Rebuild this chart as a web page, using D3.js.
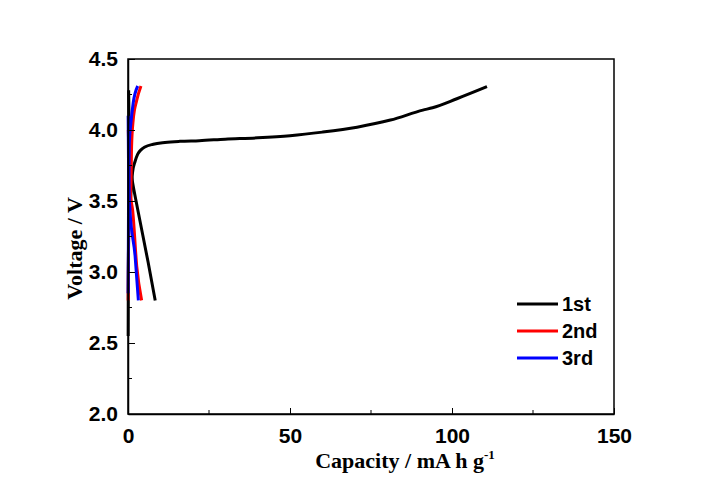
<!DOCTYPE html>
<meta charset="utf-8">
<script src="https://d3js.org/d3.v7.min.js"></script>
<style>
  body { margin: 0; background: #fff; }
</style>
<div id="my_dataviz"></div>
<script>

// cycle data: [capacity mA h g-1, voltage V]
const cycleNames = ["1st", "2nd", "3rd"];
const cycleColors = ["#000000", "#ff0000", "#0000ff"];

const charge1st = [[0.05, 2.55], [0.1, 3.0], [0.3, 3.35], [0.9, 3.55], [1.4, 3.7], [2.2, 3.78],
    [3.0, 3.83], [4.0, 3.86], [5.2, 3.88], [7.8, 3.9], [11.4, 3.912], [16, 3.92], [22, 3.925], [30, 3.935],
    [40, 3.945], [50, 3.96], [60, 3.985], [70.7, 4.02], [81, 4.07], [91, 4.14], [94, 4.157], [101.5, 4.22], [110.8, 4.305]];
const discharge1st = [[0.2, 4.28], [0.4, 3.9], [0.8, 3.72], [1.2, 3.66], [3.0, 3.44], [6.2, 3.07], [8.4, 2.8]];

const charge2nd = [[0.05, 2.8], [0.2, 3.3], [0.5, 3.5], [0.9, 3.6], [1.1, 3.88], [1.6, 4.07], [2.7, 4.21], [4.0, 4.31]];
const discharge2nd = [[0.1, 4.0], [0.4, 3.7], [1.0, 3.5], [1.4, 3.44], [2.7, 3.04], [4.2, 2.8]];

const charge3rd = [[0.05, 2.85], [0.15, 3.4], [0.3, 3.7], [0.4, 3.91], [0.9, 4.05], [1.6, 4.19], [3.0, 4.31]];
const discharge3rd = [[0.05, 4.1], [0.15, 3.8], [0.3, 3.6], [0.6, 3.44], [2.2, 3.11], [3.2, 2.8]];

const xTicks = [0, 50, 100, 150];
const xMinor = [25, 75, 125];
const yTicks = [2.0, 2.5, 3.0, 3.5, 4.0, 4.5];
const yMinor = [2.25, 2.75, 3.25, 3.75, 4.25];

const curves = [
    {cycle: 0, pts: charge1st}, {cycle: 0, pts: discharge1st},
    {cycle: 1, pts: charge2nd}, {cycle: 1, pts: discharge2nd},
    {cycle: 2, pts: charge3rd}, {cycle: 2, pts: discharge3rd}
];

const margin = {top: 59, right: 100, bottom: 84, left: 128},
    width = 714 - margin.left - margin.right,
    height = 498 - margin.top - margin.bottom;

const svg = d3.select("#my_dataviz")
    .append("svg")
    .attr("width", 714)
    .attr("height", 498)
    .append("g")
    .attr("transform", `translate(${margin.left},${margin.top})`);

const x = d3.scaleLinear().domain([0, 150]).range([0, width]);
const y = d3.scaleLinear().domain([2.0, 4.5]).range([height, 0]);

const tickFont = "'Liberation Sans', Arial, sans-serif";
const labelFont = "'Liberation Serif', 'Times New Roman', serif";

// curves
const line = d3.line().x(d => x(d[0])).y(d => y(d[1])).curve(d3.curveMonotoneX);
svg.selectAll("curves")
    .data(curves)
    .enter()
    .append("path")
    .attr("d", d => line(d.pts))
    .attr("fill", "none")
    .attr("stroke", d => cycleColors[d.cycle])
    .attr("stroke-width", 3)
    .attr("stroke-linejoin", "round");

// frame
svg.append("rect")
    .attr("width", width).attr("height", height)
    .attr("fill", "none").attr("stroke", "#000").attr("stroke-width", 1.5);

// x axis (ticks inside)
const xAxis = svg.append("g")
    .attr("transform", `translate(0,${height})`)
    .call(d3.axisBottom(x).tickValues(xTicks).tickSizeInner(-6).tickSizeOuter(0).tickPadding(14).tickFormat(d3.format("d")));
xAxis.append("g").selectAll("line").data(xMinor).enter().append("line")
    .attr("x1", d => x(d)).attr("x2", d => x(d)).attr("y1", 0).attr("y2", -4)
    .attr("stroke", "#000");

// y axis (ticks inside)
const yAxis = svg.append("g")
    .call(d3.axisLeft(y).tickValues(yTicks).tickSizeInner(-7).tickSizeOuter(0).tickPadding(10).tickFormat(d3.format(".1f")));
yAxis.append("g").selectAll("line").data(yMinor).enter().append("line")
    .attr("x1", 0).attr("x2", 4).attr("y1", d => y(d)).attr("y2", d => y(d))
    .attr("stroke", "#000");

[xAxis, yAxis].forEach(a => {
    a.select(".domain").attr("stroke-width", 1.5);
    a.selectAll(".tick line").attr("stroke-width", 1);
    a.selectAll("text")
        .style("font-family", tickFont)
        .style("font-weight", "bold")
        .style("font-size", "21px")
        .attr("fill", "#000");
});

// axis titles
const xTitle = svg.append("text")
    .attr("x", 277)
    .attr("y", height + 54)
    .attr("text-anchor", "middle")
    .style("font-family", labelFont)
    .style("font-weight", "bold")
    .style("font-size", "22px")
    .text("Capacity / mA h g");
xTitle.append("tspan")
    .attr("dy", -9)
    .style("font-size", "13px")
    .text("-1");

svg.append("text")
    .attr("transform", `translate(-46,${y(3.25) + 12}) rotate(-90)`)
    .attr("text-anchor", "middle")
    .style("font-family", labelFont)
    .style("font-weight", "bold")
    .style("font-size", "22px")
    .text("Voltage / V");

// legend
const legend = svg.selectAll("legend")
    .data(cycleNames)
    .enter()
    .append("g")
    .attr("transform", (d, i) => `translate(389,${245 + i * 27})`);
legend.append("line")
    .attr("x1", 0).attr("x2", 41)
    .attr("stroke", (d, i) => cycleColors[i])
    .attr("stroke-width", 3);
legend.append("text")
    .attr("x", 45)
    .attr("y", 7)
    .style("font-family", tickFont)
    .style("font-weight", "bold")
    .style("font-size", "20px")
    .text(d => d);

</script>
